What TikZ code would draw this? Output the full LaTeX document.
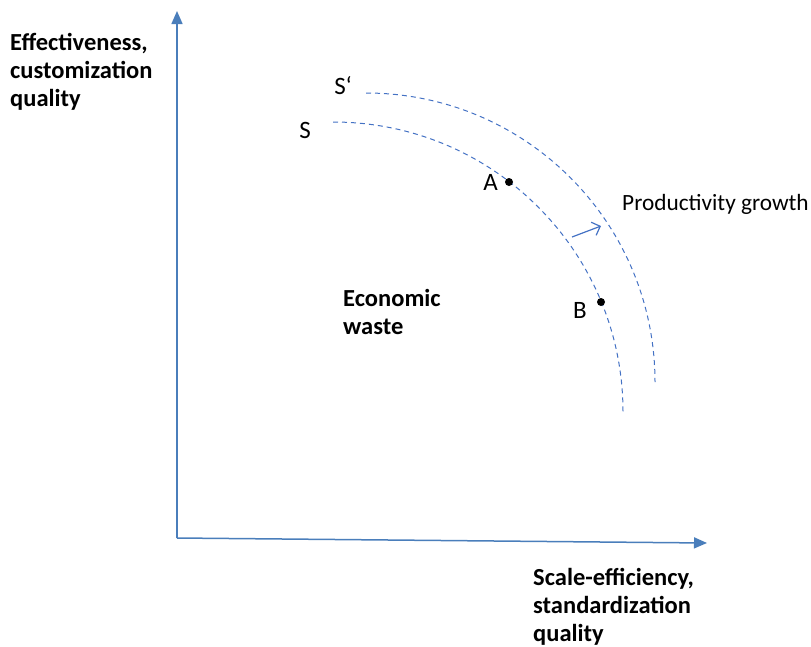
\documentclass[tikz,border=0pt]{standalone}
\usepackage{fontspec}
\setmainfont{Carlito}
\usetikzlibrary{arrows.meta}
\definecolor{axisblue}{HTML}{4A7EBB}
\definecolor{curveblue}{HTML}{4472C4}
\begin{document}
\begin{tikzpicture}[x=1pt,y=1pt,
  axis/.style={draw=axisblue,line width=1.5pt,-{Triangle[length=13pt,width=11pt]}},
  curve/.style={draw=curveblue,line width=1pt,dash pattern=on 5pt off 4pt},
  growarrow/.style={draw=curveblue,line width=1.2pt,-{Straight Barb[length=7pt,width=14pt]}},
  lbl/.style={font=\fontsize{25}{30}\selectfont,inner sep=0pt},
  blbl/.style={font=\fontsize{24.5}{28}\selectfont\bfseries,inner sep=0pt,align=left},
  dot/.style={circle,fill=black,inner sep=0pt,minimum size=8pt}]
\useasboundingbox (0,0) rectangle (811,-646);
% axes
\coordinate (O) at (177,-538);
\coordinate (ytop) at (177,-11);
\coordinate (xend) at (707,-543);
\draw[axis] (O) -- (ytop);
\draw[axis] (O) -- (xend);
% curves
\draw[curve] (333,-122) arc[start angle=90,end angle=0,radius=290];
\draw[curve] (366,-93) arc[start angle=90,end angle=0,radius=289];
% points
\node[dot] (A) at (509,-182) {};
\node[dot] (B) at (601,-302) {};
\node[lbl,anchor=east] (Al) at (498,-182) {A};
\node[lbl,anchor=east] (Bl) at (587,-310) {B};
% curve labels
\node[lbl] (S) at (305,-130) {S};
\node[lbl] (Sp) at (343,-86) {S‘};
% shift arrow
\coordinate (pa) at (572,-237);
\coordinate (pb) at (601,-226);
\draw[growarrow] (pa) -- (pb);
\node[lbl,anchor=west,font=\fontsize{23.3}{28}\selectfont] (pg) at (622,-204) {Productivity growth};
% region label
\node[blbl,anchor=north west] (ew) at (343,-289) {Economic\\waste};
% axis labels
\node[blbl,anchor=north west] (yl) at (10,-33) {Effectiveness,\\customization\\quality};
\node[blbl,anchor=north west] (xl) at (533,-568) {Scale-efficiency,\\standardization\\quality};
\end{tikzpicture}
\end{document}
